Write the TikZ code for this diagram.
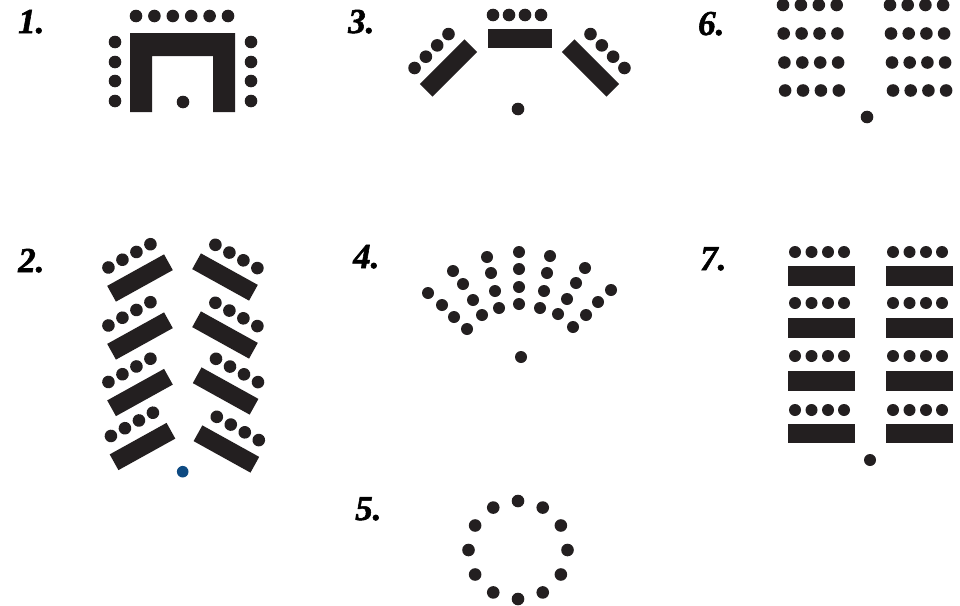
\documentclass[tikz,border=0pt]{standalone}
\usepackage{fontspec}
\newfontface\labfont{Liberation Serif Bold Italic}[FakeBold=1.6]
\begin{document}
\begin{tikzpicture}[x=1pt,y=-1pt,
  lab/.style={anchor=base west,inner sep=0pt,font=\labfont\fontsize{35}{35}\selectfont},
  ink/.style={fill=inkc},
]
\definecolor{inkc}{HTML}{231F20}
\definecolor{bluec}{HTML}{0E4A82}
\useasboundingbox (0,0) rectangle (960,605);
\fill[white] (0,0) rectangle (960,605);
\def\R{6.3}
% labels
\node[lab] (l1) at (18,33) {1.};
\node[lab] (l3) at (348,33) {3.};
\node[lab] (l6) at (698,35) {6.};
\node[lab] (l2) at (18,272) {2.};
\node[lab] (l4) at (353,268) {4.};
\node[lab] (l7) at (700,270) {7.};
\node[lab] (l5) at (355,520) {5.};

% ---------- 1 ----------
\foreach \x in {136,154.4,172.8,191.2,209.6,228} \fill[ink] (\x,16) circle (\R);
\foreach \y in {42,62,81,101} {\fill[ink] (115,\y) circle (\R); \fill[ink] (251,\y) circle (\R);}
\fill[ink] (130,112)--(130,33)--(235,33)--(235,112)--(213,112)--(213,56)--(152,56)--(152,112)--cycle;
\fill[ink] (183,102) circle (\R);

% ---------- 3 ----------
\foreach \x in {493,509,525,541} \fill[ink] (\x,15) circle (\R);
\fill[ink] (488,29) rectangle (552,48);
\begin{scope}[shift={(448.5,68)},rotate=45]
  \fill[ink] (-31.5,-9) rectangle (31.5,9);
  \foreach \a in {-24,-8,8,24} \fill[ink] (\a,-24) circle (\R);
\end{scope}
\begin{scope}[shift={(590.5,68)},rotate=-45]
  \fill[ink] (-31.5,-9) rectangle (31.5,9);
  \foreach \a in {-24,-8,8,24} \fill[ink] (\a,-24) circle (\R);
\end{scope}
\fill[ink] (518,109) circle (\R);

% ---------- 6 ----------
\foreach \r/\y in {0/5,1/33.5,2/62.5,3/90.5} {
  \foreach \k in {0,1,2,3} {
    \fill[ink] ({783+0.7*\r+17.9*\k},\y) circle (\R);
    \fill[ink] ({890+1*\r+17.7*\k},\y) circle (\R);
  }
}
\fill[ink] (867,117) circle (\R);

% ---------- 2 ----------
\foreach \cx/\cy in {140/278,140/336,140/392.5,142.5/446.5} {
  \begin{scope}[shift={(\cx,\cy)},rotate=29]
    \fill[ink] (-32.5,-9) rectangle (32.5,9);
    \foreach \a in {-22.5,-6.5,9.5,25.5} \fill[ink] (\a,-24.5) circle (\R);
  \end{scope}
}
\foreach \cx/\cy in {225/277,225/335,225.6/391,226.4/449} {
  \begin{scope}[shift={(\cx,\cy)},rotate=-29]
    \fill[ink] (-32.5,-9) rectangle (32.5,9);
    \foreach \a in {-24,-8,8,24} \fill[ink] (\a,-23.5) circle (\R);
  \end{scope}
}
\fill[bluec] (182.7,471.7) circle (5.8);

% ---------- 4 ----------
\foreach \p in {(519,252),(519,269),(519,287),(519,304),
  (487,257),(491,273),(495,291),(499,308),
  (550,256),(547,273),(544,291),(540,308),
  (453,271),(463,284),(473,300),(482,315),
  (585,268),(576,283),(567,299),(558,314),
  (428,293),(442,305),(454,317),(467,329),
  (611,290),(598,302),(586,315),(573,327)}
  \fill[ink] \p circle (6);
\fill[ink] (521,357) circle (6);

% ---------- 7 ----------
\foreach \ty/\dy in {266/252,318/303,371/356,423.5/410} {
  \fill[ink] (788,\ty) rectangle (855,\ty+19.5);
  \fill[ink] (886,\ty) rectangle (953,\ty+19.5);
  \foreach \x in {795,811.5,828,844} \fill[ink] (\x,\dy) circle (6);
  \foreach \x in {893,909.5,926,942} \fill[ink] (\x,\dy) circle (6);
}
\fill[ink] (870,460) circle (6);

% ---------- 5 ----------
\foreach \t in {0,30,...,330} \fill[ink] ({518+49.5*cos(\t)},{550+49*sin(\t)}) circle (6.3);
\end{tikzpicture}
\end{document}
